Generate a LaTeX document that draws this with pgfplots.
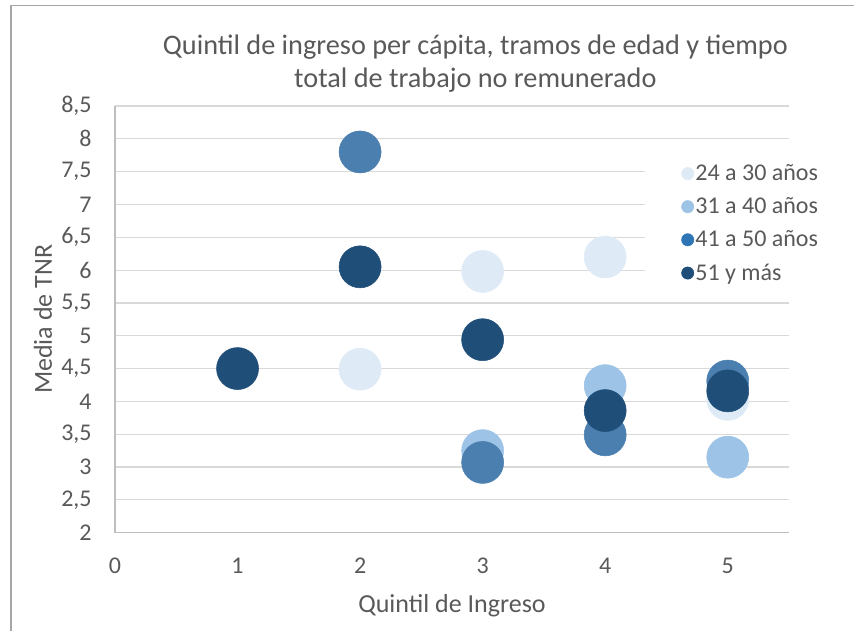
\documentclass[border=0pt]{standalone}
\usepackage{pgfplots}
\pgfplotsset{compat=1.18}
\usepackage{fontspec}
\setmainfont{Carlito}
\definecolor{txt}{HTML}{595959}
\definecolor{gridc}{HTML}{D9D9D9}
\definecolor{axc}{HTML}{BFBFBF}
\definecolor{frm}{HTML}{A6A6A6}
\definecolor{cA}{HTML}{DEEBF7}
\definecolor{cB}{HTML}{9DC3E6}
\definecolor{cC}{HTML}{4A7FB0}
\definecolor{cCl}{HTML}{2E75B6}
\definecolor{cD}{HTML}{1F4E79}
\begin{document}
\begin{tikzpicture}
\useasboundingbox (0,0) rectangle (640.5pt,-473.25pt);
\draw[frm, line width=1.2pt] (8.25pt,-473.25pt) -- (8.25pt,-4.1pt) -- (640.5pt,-4.1pt);
\node[txt, font=\fontsize{21.2pt}{24.75pt}\selectfont, align=center] at (356.5pt,-47.6pt) {Quintil de ingreso per cápita, tramos de edad y tiempo\\total de trabajo no remunerado};
\begin{axis}[
  at={(86.25pt,-399.5pt)}, anchor=south west,
  scale only axis, width=505.5pt, height=320pt,
  xmin=0, xmax=5.5, ymin=2, ymax=8.5,
  xtick={0,1,2,3,4,5}, ytick={2,2.5,...,8.5},
  ymajorgrids, grid style={gridc, line width=0.9pt},
  axis x line*=bottom, axis y line*=left,
  x axis line style={axc, line width=0.9pt, -},
  y axis line style={axc, line width=0.9pt, -},
  tick style={draw=none},
  /pgf/number format/use comma,
  /pgf/number format/assume math mode=true,
  ticklabel style={txt, font=\fontsize{18pt}{21pt}\selectfont},
  yticklabel style={xshift=-14pt},
  xticklabel style={yshift=-15.5pt},
  xlabel={Quintil de Ingreso}, ylabel={Media de TNR},
  label style={txt, font=\fontsize{19.5pt}{23pt}\selectfont},
  xlabel style={yshift=-9pt},
  ylabel style={yshift=0pt},
  clip=false,
  legend style={at={(0.7864,0.879)}, anchor=north west, draw=none, fill=white,
    font=\fontsize{18pt}{21pt}\selectfont, text=txt,
    row sep=9.3pt, inner xsep=27pt, inner ysep=4pt, nodes={inner sep=1pt}},
  legend cell align=left,
  legend image code/.code={\fill[#1] (0.1em,0) circle (4.6pt);},
]
\addplot[only marks, mark=*, mark size=15.75pt, mark options={draw=cA, fill=cA}, forget plot] coordinates {(2,4.49) (3,5.98) (4,6.2) (5,4.03)};
\addplot[only marks, mark=*, mark size=15.75pt, mark options={draw=cB, fill=cB}, forget plot] coordinates {(3,3.25) (4,4.24) (5,3.15)};
\addplot[only marks, mark=*, mark size=15.75pt, mark options={draw=cC, fill=cC}, forget plot] coordinates {(2,7.8) (3,3.07) (4,3.49) (5,4.31)};
\addplot[only marks, mark=*, mark size=15.75pt, mark options={draw=cD, fill=cD}, forget plot] coordinates {(1,4.5) (2,6.05) (3,4.94) (4,3.86) (5,4.16)};
\addlegendimage{draw=cA, fill=cA}\addlegendentry{24 a 30 años}
\addlegendimage{draw=cB, fill=cB}\addlegendentry{31 a 40 años}
\addlegendimage{draw=cCl, fill=cCl}\addlegendentry{41 a 50 años}
\addlegendimage{draw=cD, fill=cD}\addlegendentry{51 y más}
\end{axis}
\end{tikzpicture}
\end{document}
